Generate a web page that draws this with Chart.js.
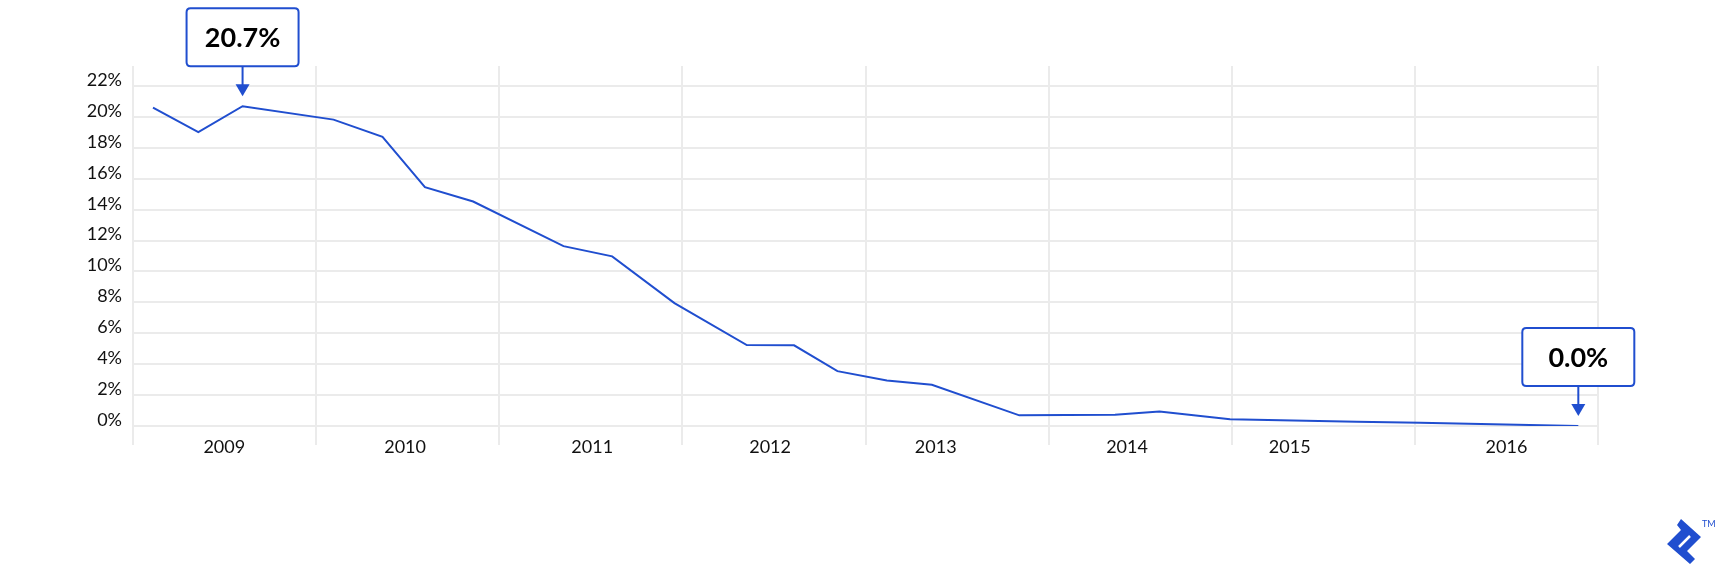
<!DOCTYPE html>
<html>
<head>
<meta charset="utf-8">
<script src="https://cdn.jsdelivr.net/npm/chart.js@4.4.1/dist/chart.umd.min.js"></script>
<style>
  html, body { margin: 0; padding: 0; background: #fff; }
  #wrap { width: 1720px; height: 574px; }
</style>
</head>
<body>
<div id="wrap"><canvas id="shareChart" width="1720" height="574"></canvas></div>
<script>
// months since Jan 2009 for each point
const monthIndex = [1.31, 4.28, 7.18, 13.14, 16.35, 19.13, 22.29, 28.21, 31.40, 35.48, 40.22,
  43.32, 46.16, 49.40, 52.35, 58.08, 64.35, 67.26, 71.89, 80.19, 84.34, 94.71];
// share in percent
const shareValues = [20.6, 19.02, 20.7, 19.83, 18.72, 15.46, 14.53, 11.64, 10.98, 7.95, 5.24,
  5.22, 3.55, 2.95, 2.67, 0.69, 0.73, 0.94, 0.43, 0.28, 0.21, 0.0];

const years = [2009, 2010, 2011, 2012, 2013, 2014, 2015, 2016];
const yearLabelMonths = [5.98, 17.83, 30.09, 41.75, 52.6, 65.14, 75.8, 90.0];
const yearGridMonths = [0, 12, 24, 36, 48, 60, 72, 84, 96];
const yTickValues = [0, 2, 4, 6, 8, 10, 12, 14, 16, 18, 20, 22];

const callouts = [
  { index: 2, text: '20.7%' },
  { index: 21, text: '0.0%' },
];

const blue = '#204ecf';
const gridColor = '#ebebeb';

Chart.defaults.font.family = 'Lato';
Chart.defaults.color = '#111';

// box + arrow over a point, placed through the scales
const calloutPlugin = {
  id: 'callouts',
  afterDatasetsDraw(chart) {
    const { ctx, scales: { x, y } } = chart;
    callouts.forEach((c) => {
      const px = x.getPixelForValue(monthIndex[c.index]);
      const py = y.getPixelForValue(shareValues[c.index]);
      const w = 112, h = 58, r = 4;
      const bottom = py - 40;
      const left = px - w / 2, top = bottom - h;
      const tip = py - 10;
      ctx.save();
      ctx.beginPath();
      ctx.moveTo(left + r, top);
      ctx.lineTo(left + w - r, top);
      ctx.quadraticCurveTo(left + w, top, left + w, top + r);
      ctx.lineTo(left + w, bottom - r);
      ctx.quadraticCurveTo(left + w, bottom, left + w - r, bottom);
      ctx.lineTo(left + r, bottom);
      ctx.quadraticCurveTo(left, bottom, left, bottom - r);
      ctx.lineTo(left, top + r);
      ctx.quadraticCurveTo(left, top, left + r, top);
      ctx.closePath();
      ctx.fillStyle = '#fff';
      ctx.fill();
      ctx.lineWidth = 2;
      ctx.strokeStyle = blue;
      ctx.stroke();
      // stem
      ctx.beginPath();
      ctx.moveTo(px, bottom);
      ctx.lineTo(px, tip - 11);
      ctx.stroke();
      // head
      ctx.beginPath();
      ctx.moveTo(px - 7, tip - 12);
      ctx.lineTo(px + 7, tip - 12);
      ctx.lineTo(px, tip);
      ctx.closePath();
      ctx.fillStyle = blue;
      ctx.fill();
      ctx.font = 'bold 27px Lato';
      ctx.fillStyle = '#000';
      ctx.textAlign = 'center';
      ctx.textBaseline = 'alphabetic';
      ctx.fillText(c.text, px, bottom - 19);
      ctx.restore();
    });
  },
  afterDraw(chart) {
    // small logo in the corner
    const ctx = chart.ctx;
    ctx.save();
    ctx.fillStyle = blue;
    ctx.beginPath();
    ctx.moveTo(1681, 519);
    ctx.lineTo(1701, 537);
    ctx.lineTo(1687, 551);
    ctx.lineTo(1695, 559);
    ctx.lineTo(1690, 564);
    ctx.lineTo(1667, 544);
    ctx.lineTo(1681, 530);
    ctx.lineTo(1677, 525);
    ctx.closePath();
    ctx.fill();
    ctx.strokeStyle = '#fff';
    ctx.lineWidth = 2.5;
    ctx.beginPath();
    ctx.moveTo(1679, 547);
    ctx.lineTo(1690, 536);
    ctx.stroke();
    ctx.font = '9px Lato';
    ctx.textBaseline = 'top';
    ctx.textAlign = 'left';
    ctx.fillText('TM', 1702, 520);
    ctx.restore();
  },
};

new Chart(document.getElementById('shareChart'), {
  type: 'line',
  data: {
    datasets: [{
      data: monthIndex.map((m, i) => ({ x: m, y: shareValues[i] })),
      borderColor: blue,
      borderWidth: 2,
      pointRadius: 0,
      tension: 0,
      fill: false,
    }],
  },
  options: {
    responsive: false,
    animation: false,
    layout: { padding: { top: 66, right: 122, bottom: 0, left: 0 } },
    plugins: { legend: { display: false }, tooltip: { enabled: false } },
    scales: {
      x: {
        type: 'linear',
        min: 0,
        max: 96,
        border: { display: false },
        grid: {
          lineWidth: 2,
          tickLength: 19,
          color: (ctx) => (ctx.tick && yearLabelMonths.includes(ctx.tick.value) ? 'rgba(0,0,0,0)' : gridColor),
        },
        afterBuildTicks: (scale) => {
          scale.ticks = yearGridMonths.concat(yearLabelMonths)
            .sort((a, b) => a - b)
            .map((v) => ({ value: v }));
        },
        afterFit: (scale) => { scale.height = 148; },
        ticks: {
          autoSkip: false,
          maxRotation: 0,
          padding: -9,
          font: { size: 18 },
          color: '#111',
          callback: (value) => {
            const k = yearLabelMonths.indexOf(value);
            return k >= 0 ? String(years[k]) : '';
          },
        },
      },
      y: {
        min: 0,
        max: 23.3,
        border: { display: false },
        grid: { lineWidth: 2, color: gridColor, drawTicks: false },
        afterBuildTicks: (scale) => {
          scale.ticks = yTickValues.map((v) => ({ value: v }));
        },
        afterFit: (scale) => { scale.width = 133; },
        ticks: {
          padding: 11,
          labelOffset: -6,
          font: { size: 18 },
          color: '#111',
          callback: (value) => value + '%',
        },
      },
    },
  },
  plugins: [calloutPlugin],
});
</script>
</body>
</html>
